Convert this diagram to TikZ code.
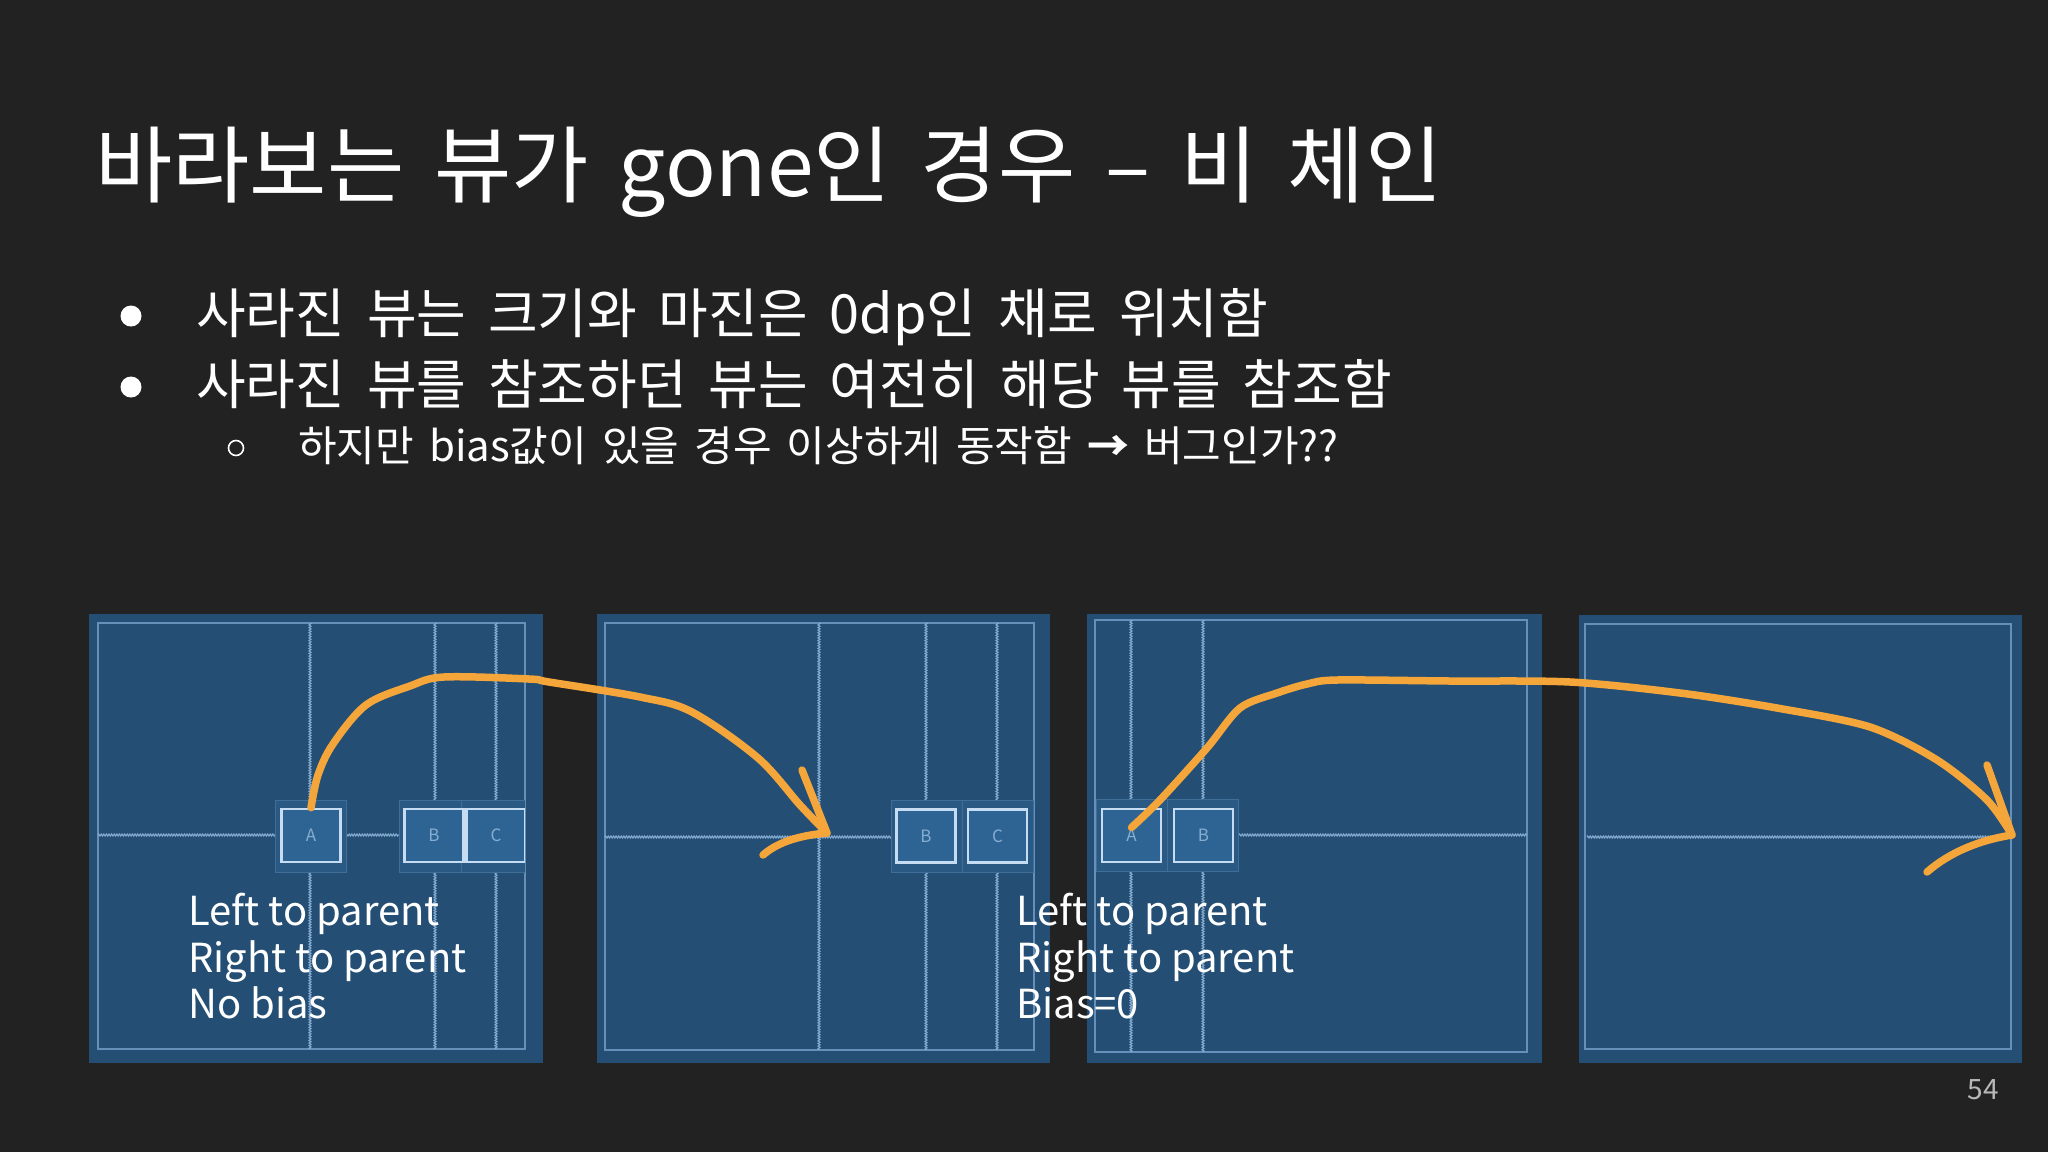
\documentclass[tikz,border=0pt]{standalone}
\usepackage{fontspec}
\setmainfont{Noto Sans CJK KR}[WordSpace=1.8]
\newfontfamily\plainfont{Noto Sans CJK KR}
\usetikzlibrary{decorations.pathmorphing}

\definecolor{slidebg}{HTML}{222222}
\definecolor{panelfill}{HTML}{244E73}
\definecolor{panelline}{HTML}{6690BA}
\definecolor{guideline}{HTML}{86ACD0}
\definecolor{boxfill}{HTML}{2E6494}
\definecolor{boxline}{HTML}{C5DCF2}
\definecolor{halofill}{HTML}{2A5A84}
\definecolor{haloline}{HTML}{3F6E98}
\definecolor{pen}{HTML}{F5A63A}
\definecolor{pagenum}{HTML}{B8B8B8}

\tikzset{
  guide/.style={guideline, line width=1.1pt, decorate,
    decoration={zigzag, amplitude=1pt, segment length=2.6pt}},
  halo/.style={draw=haloline, fill=halofill, line width=1pt,
    minimum width=71pt, minimum height=72pt, inner sep=0pt},
  viewbox/.style={draw=boxline, fill=boxfill, line width=2.6pt,
    minimum width=59pt, minimum height=53pt, inner sep=0pt,
    text=guideline, font=\plainfont\fontsize{17}{17}\selectfont},
  caption/.style={text=white, anchor=base west, inner sep=0pt,
    font=\plainfont\fontsize{40}{47}\selectfont},
  stroke/.style={pen, line width=7.5pt, line cap=round, line join=round},
}

\begin{document}
\begin{tikzpicture}[x=1pt,y=-1pt]
      \useasboundingbox (0,0) rectangle (2048,1152);
      \fill[slidebg] (0,0) rectangle (2048,1152);

      % title and bullets
      \node[anchor=base west, text=white, inner sep=0pt,
            font=\plainfont\fontsize{84}{84}\selectfont] (title) at (95,196)
            {\spaceskip=30pt\relax 바라보는 뷰가 gone인 경우 – 비 체인};
      \node[circle, fill=white, inner sep=0pt, minimum size=21pt] (dot1) at (131,316) {};
      \node[anchor=base west, text=white, inner sep=0pt,
            font=\fontsize{54}{54}\selectfont] (item1) at (196,333)
            {사라진 뷰는 크기와 마진은 0dp인 채로 위치함};
      \node[circle, fill=white, inner sep=0pt, minimum size=21pt] (dot2) at (131,387) {};
      \node[anchor=base west, text=white, inner sep=0pt,
            font=\fontsize{54}{54}\selectfont] (item2) at (196,404)
            {사라진 뷰를 참조하던 뷰는 여전히 해당 뷰를 참조함};
      \node[circle, draw=white, line width=1.6pt, inner sep=0pt, minimum size=15pt] (dot3) at (236,448) {};
      \node[anchor=base west, text=white, inner sep=0pt,
            font=\plainfont\fontsize{42}{42}\selectfont] (item3) at (298,461)
            {\spaceskip=15pt\relax 하지만 bias값이 있을 경우 이상하게 동작함 {\bfseries →} 버그인가??};

      % panel 1
      \fill[panelfill] (89,614) rectangle (543,1063);
      \draw[panelline, line width=1.3pt] (98,623) rectangle (525,1049);
      \begin{scope}
            \clip (98,623) rectangle (525,1049);
            \draw[guide] (310,623) -- (310,800);
            \draw[guide] (310,872) -- (310,1049);
            \draw[guide] (435,623) -- (435,800);
            \draw[guide] (435,872) -- (435,1049);
            \draw[guide] (496,623) -- (496,800);
            \draw[guide] (496,872) -- (496,1049);
            \draw[guide] (98,835) -- (276,835);
            \draw[guide] (346,835) -- (399,835);
            \node[halo] (haloA1) at (311,836) {};
            \node[halo, minimum width=68pt] (haloB1) at (433,836) {};
            \node[halo] (haloC1) at (497,836) {};
            \node[viewbox] (viewA1) at (311,835.5) {A};
            \node[viewbox] (viewB1) at (434,835.5) {B};
            \node[viewbox] (viewC1) at (496,835.5) {C};
      \end{scope}
      \node[caption] (capA1) at (188,925) {Left to parent};
      \node[caption] (capB1) at (188,972) {Right to parent};
      \node[caption] (capC1) at (188,1018) {No bias};

      % panel 2
      \fill[panelfill] (597,614) rectangle (1050,1063);
      \draw[panelline, line width=1.3pt] (605,623) rectangle (1034,1050);
      \draw[guide] (819,623) -- (819,1050);
      \draw[guide] (926,623) -- (926,800);
      \draw[guide] (926,873) -- (926,1050);
      \draw[guide] (997,623) -- (997,800);
      \draw[guide] (997,873) -- (997,1050);
      \draw[guide] (605,837) -- (892,837);
      \node[halo] (haloB2) at (927,836.5) {};
      \node[halo] (haloC2) at (997.5,836.5) {};
      \node[viewbox] (viewB2) at (926,836) {B};
      \node[viewbox] (viewC2) at (997.5,836) {C};

      % panel 3
      \fill[panelfill] (1087,614) rectangle (1542,1063);
      \draw[panelline, line width=1.3pt] (1095,620) rectangle (1527,1052);
      \draw[guide] (1131,620) -- (1131,800);
      \draw[guide] (1131,871) -- (1131,1052);
      \draw[guide] (1203,620) -- (1203,800);
      \draw[guide] (1203,871) -- (1203,1052);
      \draw[guide] (1239,835) -- (1527,835);
      \node[halo] (haloA3) at (1131.5,835.5) {};
      \node[halo] (haloB3) at (1203,835.5) {};
      \node[viewbox] (viewA3) at (1131.5,835.5) {A};
      \node[viewbox] (viewB3) at (1203.5,835.5) {B};
      \node[caption] (capA3) at (1016,925) {Left to parent};
      \node[caption] (capB3) at (1016,972) {Right to parent};
      \node[caption] (capC3) at (1016,1018) {Bias=0};

      % panel 4
      \fill[panelfill] (1579,615) rectangle (2022,1063);
      \draw[panelline, line width=1.3pt] (1585,624) rectangle (2011,1049);
      \draw[guide] (1587,837) -- (2011,837);

      % pen strokes
      \draw[stroke] plot[smooth, tension=0.55] coordinates {(viewA1.north)
            (318,775) (333,744) (366,705) (410,686) (444,677) (529,679)
            (549,682) (640,697) (692,712) (758,758) (800,805) (827,833)};
      \draw[stroke] (802,770) -- (827,833)
            .. controls (805,835) and (780,840) .. (763,855);
      \draw[stroke] plot[smooth, tension=0.5] coordinates {([yshift=8pt]viewA3.center)
            (1160,800) (1207,748) (1240,708) (1277,693) (1307,684) (1337,680)
            (1450,681) (1570,682) (1680,693) (1777,708) (1870,727)
            (1937,760) (1987,800) (2012,835)};
      \draw[stroke] (1987,765) -- (2012,835)
            .. controls (1980,840) and (1950,852) .. (1927,872);

      \node[anchor=base east, text=pagenum, inner sep=0pt,
            font=\plainfont\fontsize{28}{28}\selectfont] (page) at (1999,1099) {54};
\end{tikzpicture}
\end{document}
